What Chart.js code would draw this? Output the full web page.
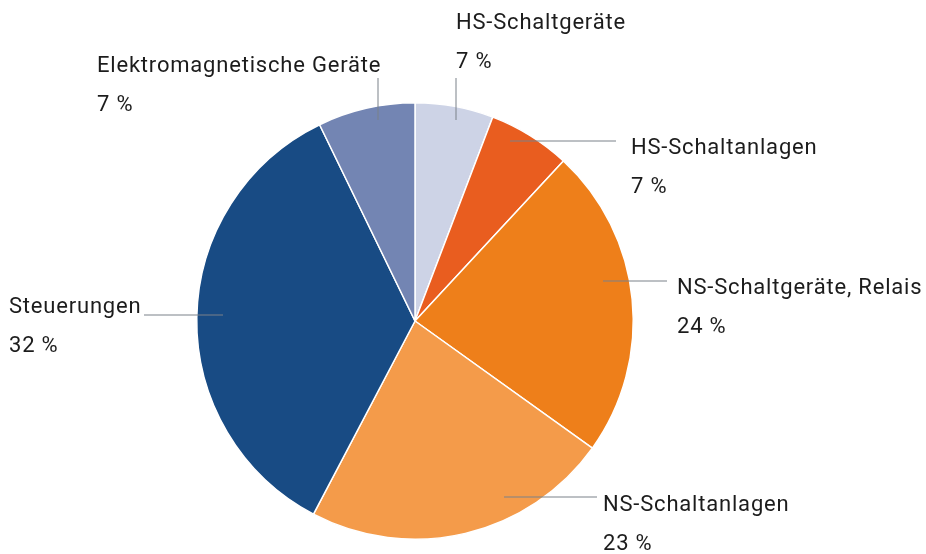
<!DOCTYPE html>
<html>
<head>
<meta charset="utf-8">
<script src="https://cdn.jsdelivr.net/npm/chart.js@4"></script>
<style>
html,body{margin:0;padding:0;background:#fff;}
#wrap{width:926px;height:554px;position:relative;}
</style>
</head>
<body>
<div id="wrap"><canvas id="pie"></canvas></div>
<script>
// categories, clockwise from 12 o'clock
const categories = ["HS-Schaltgeräte","HS-Schaltanlagen","NS-Schaltgeräte, Relais","NS-Schaltanlagen","Steuerungen","Elektromagnetische Geräte"];
// slice sizes
const sliceValues = [5.8, 6.1, 23.0, 22.8, 35.1, 7.2];
// percentages printed in the labels
const percentLabels = ["7 %","7 %","24 %","23 %","32 %","7 %"];
const sliceColors = ["#cdd3e6","#e95d1f","#ee7f1a","#f49b4a","#184b84","#7385b3"];

// label layout, offsets from the pie centre
// line: [x1,y1,x2,y2], text: [x,y] of first line centre
const labelLayout = [
  {line:[41,-201,41,-243], text:[41,-298]},
  {line:[95,-180,201,-180], text:[216,-173]},
  {line:[188,-40,252,-40], text:[262,-33]},
  {line:[89,176,182,176], text:[188,184]},
  {line:[-192,-6,-271,-6], text:[-406,-14]},
  {line:[-37,-201,-37,-243], text:[-318,-255]}
];

const labelPlugin = {
  id:"labelPlugin",
  afterDraw(chart){
    const ctx = chart.ctx;
    const arc = chart.getDatasetMeta(0).data[0];
    const cx = arc.x, cy = arc.y;
    ctx.save();
    labelLayout.forEach((l,i)=>{
      ctx.strokeStyle = "#7b8189";
      ctx.lineWidth = 1;
      ctx.beginPath();
      ctx.moveTo(cx+l.line[0], cy+l.line[1]);
      ctx.lineTo(cx+l.line[2], cy+l.line[3]);
      ctx.stroke();
      ctx.fillStyle = "#1c1c1c";
      ctx.font = "22px Roboto";
      ctx.letterSpacing = "0.8px";
      ctx.textAlign = "left";
      ctx.textBaseline = "middle";
      ctx.fillText(categories[i], cx+l.text[0], cy+l.text[1]);
      ctx.fillText(percentLabels[i], cx+l.text[0], cy+l.text[1]+39);
    });
    ctx.restore();
  }
};

new Chart(document.getElementById("pie"),{
  type:"pie",
  data:{
    labels:categories,
    datasets:[{
      data:sliceValues,
      backgroundColor:sliceColors,
      borderColor:"#ffffff",
      borderWidth:1.5,
      hoverOffset:0
    }]
  },
  options:{
    responsive:true,
    maintainAspectRatio:false,
    animation:false,
    layout:{padding:{left:196,right:292,top:102,bottom:14}},
    plugins:{
      legend:{display:false},
      tooltip:{enabled:false}
    }
  },
  plugins:[labelPlugin]
});
</script>
</body>
</html>
